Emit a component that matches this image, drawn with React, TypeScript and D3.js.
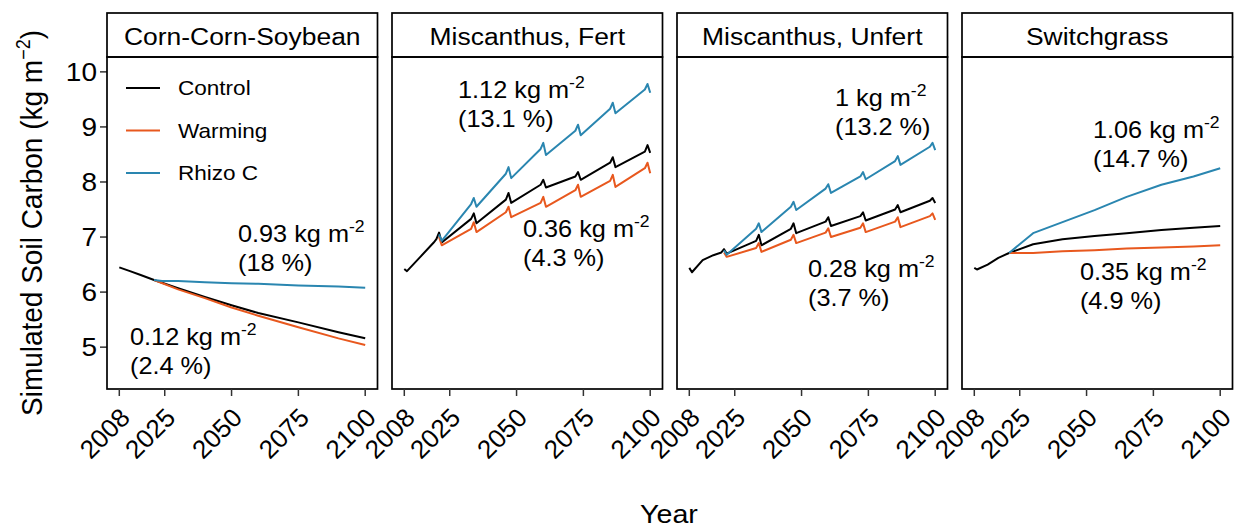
import React from 'react'
import * as d3 from 'd3'

// facet names, in the order they are drawn
const panelNames = ['Corn-Corn-Soybean', 'Miscanthus, Fert', 'Miscanthus, Unfert', 'Switchgrass']
const seriesNames = ['Control', 'Warming', 'Rhizo C']
const seriesColors = ['#000000', '#e8581e', '#2a86b0']

const yearTicks = [2008, 2025, 2050, 2075, 2100]
const carbonTicks = [5, 6, 7, 8, 9, 10]

// [year, soil C (kg m-2)]
const ccsControl = [[2008, 6.45], [2012, 6.38], [2016, 6.31], [2021, 6.22], [2030, 6.07], [2040, 5.91], [2050, 5.76], [2060, 5.62], [2075, 5.45], [2090, 5.27], [2100, 5.16]]
const ccsWarming = [[2021, 6.22], [2030, 6.05], [2040, 5.89], [2050, 5.72], [2060, 5.57], [2075, 5.36], [2090, 5.16], [2100, 5.04]]
const ccsRhizo = [[2021, 6.22], [2024, 6.2], [2030, 6.2], [2040, 6.18], [2050, 6.16], [2060, 6.15], [2075, 6.12], [2090, 6.1], [2100, 6.08]]

const mfControl = [[2008, 6.42], [2009, 6.38], [2014, 6.64], [2019, 6.9], [2020, 6.96], [2021, 7.08], [2022, 6.9], [2033, 7.33], [2034, 7.43], [2035, 7.25], [2046, 7.68], [2047, 7.8], [2048, 7.62], [2059, 7.95], [2060, 8.04], [2061, 7.9], [2072, 8.1], [2073, 8.18], [2074, 8.04], [2085, 8.35], [2086, 8.45], [2087, 8.27], [2098, 8.55], [2099, 8.67], [2100, 8.53]]
const mfWarming = [[2021, 7.0], [2022, 6.85], [2033, 7.15], [2034, 7.27], [2035, 7.09], [2046, 7.45], [2047, 7.55], [2048, 7.36], [2059, 7.62], [2060, 7.73], [2061, 7.55], [2072, 7.85], [2073, 7.95], [2074, 7.73], [2085, 8.02], [2086, 8.13], [2087, 7.91], [2098, 8.25], [2099, 8.35], [2100, 8.16]]
const mfRhizo = [[2021, 7.05], [2022, 6.93], [2033, 7.6], [2034, 7.71], [2035, 7.55], [2046, 8.15], [2047, 8.27], [2048, 8.07], [2059, 8.6], [2060, 8.71], [2061, 8.49], [2072, 8.93], [2073, 9.04], [2074, 8.85], [2085, 9.33], [2086, 9.44], [2087, 9.25], [2098, 9.68], [2099, 9.78], [2100, 9.62]]

const muControl = [[2008, 6.44], [2009, 6.36], [2013, 6.58], [2017, 6.67], [2020, 6.72], [2021, 6.78], [2022, 6.7], [2033, 6.93], [2034, 7.04], [2035, 6.85], [2046, 7.15], [2047, 7.25], [2048, 7.07], [2059, 7.28], [2060, 7.36], [2061, 7.2], [2072, 7.38], [2073, 7.45], [2074, 7.3], [2085, 7.5], [2086, 7.58], [2087, 7.45], [2098, 7.66], [2099, 7.71], [2100, 7.62]]
const muWarming = [[2021, 6.72], [2022, 6.64], [2033, 6.8], [2034, 6.89], [2035, 6.73], [2046, 6.95], [2047, 7.04], [2048, 6.89], [2059, 7.08], [2060, 7.16], [2061, 7.0], [2072, 7.17], [2073, 7.25], [2074, 7.09], [2085, 7.28], [2086, 7.36], [2087, 7.18], [2098, 7.38], [2099, 7.43], [2100, 7.31]]
const muRhizo = [[2021, 6.76], [2022, 6.68], [2033, 7.15], [2034, 7.25], [2035, 7.09], [2046, 7.55], [2047, 7.64], [2048, 7.49], [2059, 7.88], [2060, 7.96], [2061, 7.8], [2072, 8.1], [2073, 8.18], [2074, 8.05], [2085, 8.38], [2086, 8.47], [2087, 8.31], [2098, 8.64], [2099, 8.71], [2100, 8.58]]

const sgControl = [[2008, 6.44], [2009, 6.41], [2013, 6.5], [2017, 6.62], [2021, 6.71], [2030, 6.87], [2041, 6.96], [2053, 7.02], [2065, 7.07], [2078, 7.13], [2090, 7.17], [2100, 7.2]]
const sgWarming = [[2021, 6.71], [2030, 6.71], [2041, 6.74], [2053, 6.76], [2065, 6.79], [2078, 6.81], [2090, 6.83], [2100, 6.85]]
const sgRhizo = [[2021, 6.71], [2030, 7.07], [2041, 7.27], [2053, 7.49], [2065, 7.73], [2078, 7.95], [2090, 8.1], [2100, 8.25]]

const panelSeries = [
  [ccsControl, ccsWarming, ccsRhizo],
  [mfControl, mfWarming, mfRhizo],
  [muControl, muWarming, muRhizo],
  [sgControl, sgWarming, sgRhizo],
]

// difference labels: rhizo C gain and warming loss per facet
const rhizoGain = ['0.93', '1.12', '1', '1.06']
const rhizoPct = ['18', '13.1', '13.2', '14.7']
const warmLoss = ['0.12', '0.36', '0.28', '0.35']
const warmPct = ['2.4', '4.3', '3.7', '4.9']

// where the labels sit, in data units (year, value of first baseline)
const rhizoLabelAt = [[2052.4, 6.91], [2028.1, 9.53], [2062.5, 9.38], [2052.4, 8.8]]
const warmLabelAt = [[2012, 5.04], [2052.4, 7.0], [2052.4, 6.27], [2047.5, 6.22]]

const W = 1235
const H = 529
const panelLeft = 107
const panelW = 270.5
const panelGap = 14.5
const stripTop = 13
const plotTop = 57
const plotBottom = 389
const FONT = '"Liberation Sans", Arial, Helvetica, sans-serif'

// text is a touch wider than plain Arial in the original, sx stretches it
function T({ x, y, size, sx = 1.1, anchor = 'start', rotate = 0, dy = 0, children }: any) {
  return (
    <text
      transform={`translate(${x},${y}) scale(${sx},1)${rotate ? ` rotate(${rotate})` : ''}`}
      fontSize={size}
      textAnchor={anchor}
      dy={dy}
      fill="#000"
    >
      {children}
    </text>
  )
}

export default function App() {
  const y = d3.scaleLinear().domain([4.24, 10.27]).range([plotBottom, plotTop])
  const line = d3.line<number[]>()

  return (
    <svg width={W} height={H} style={{ position: 'absolute', left: 0, top: 0, background: '#fff' }} fontFamily={FONT}>
      {/* y axis, only on first facet */}
      {carbonTicks.map(t => (
        <g key={t}>
          <line x1={panelLeft - 7} x2={panelLeft} y1={y(t)} y2={y(t)} stroke="#333" strokeWidth={1.5} />
          <T x={panelLeft - 10} y={y(t)} size={25} sx={1.12} anchor="end" dy="0.36em">{t}</T>
        </g>
      ))}
      <text transform={`translate(42,${(plotTop + plotBottom) / 2}) rotate(-90) scale(1,1.08)`} fontSize={28} textAnchor="middle">
        Simulated Soil Carbon (kg m<tspan fontSize={18} dy={-11}>−2</tspan><tspan dy={11}>)</tspan>
      </text>
      <T x={669} y={523} size={26}>
        <tspan textAnchor="middle">Year</tspan>
      </T>

      {panelNames.map((name, p) => {
        const left = panelLeft + p * (panelW + panelGap)
        const x = d3.scaleLinear().domain([2003.4, 2104.6]).range([left, left + panelW])
        line.x(d => x(d[0])).y(d => y(d[1]))
        const [rx, ry] = rhizoLabelAt[p]
        const [wx, wy] = warmLabelAt[p]
        return (
          <g key={name}>
            <rect x={left} y={stripTop} width={panelW} height={plotTop - stripTop} fill="#fff" stroke="#000" strokeWidth={1.7} />
            <T x={left + panelW / 2} y={45} size={24.5} sx={1.08} anchor="middle">{name}</T>
            {panelSeries[p].map((s, i) => (
              <path key={i} d={line(s as number[][]) || ''} fill="none" stroke={seriesColors[i]} strokeWidth={2} strokeLinejoin="round" />
            ))}
            <rect x={left} y={plotTop} width={panelW} height={plotBottom - plotTop} fill="none" stroke="#000" strokeWidth={1.7} />
            {yearTicks.map(t => (
              <g key={t}>
                <line x1={x(t)} x2={x(t)} y1={plotBottom} y2={plotBottom + 7} stroke="#333" strokeWidth={1.5} />
                <T x={x(t) - 1} y={406} size={26} sx={1} anchor="end" rotate={-45} dy="0.72em">{t}</T>
              </g>
            ))}
            <T x={x(rx)} y={y(ry)} size={23}>
              {rhizoGain[p]} kg m<tspan fontSize={16} dy={-10}>-2</tspan>
            </T>
            <T x={x(rx)} y={y(ry) + 29} size={23}>({rhizoPct[p]} %)</T>
            <T x={x(wx)} y={y(wy)} size={23}>
              {warmLoss[p]} kg m<tspan fontSize={16} dy={-10}>-2</tspan>
            </T>
            <T x={x(wx)} y={y(wy) + 29} size={23}>({warmPct[p]} %)</T>
          </g>
        )
      })}

      {/* legend inside first facet */}
      {seriesNames.map((n, i) => (
        <g key={n}>
          <line x1={panelLeft + 19} x2={panelLeft + 53} y1={88 + i * 42.5} y2={88 + i * 42.5} stroke={seriesColors[i]} strokeWidth={2} />
          <T x={panelLeft + 71} y={88 + i * 42.5} size={20.5} dy="0.36em">{n}</T>
        </g>
      ))}
    </svg>
  )
}
